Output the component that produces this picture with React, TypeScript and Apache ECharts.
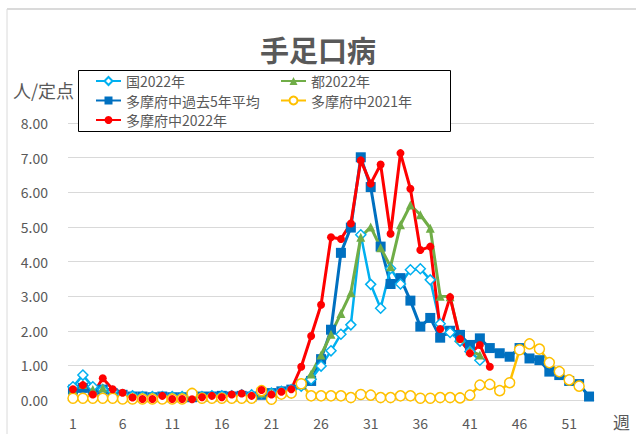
import React, { useEffect, useRef } from "react";
import * as echarts from "echarts";

const weeks: string[] = Array.from({ length: 53 }, (_, i) => String(i + 1));
const yTicks = [0, 1, 2, 3, 4, 5, 6, 7, 8];

const kuni2022: (number | null)[] = [
  0.38, 0.72, 0.38, 0.3, 0.25, 0.15, 0.12, 0.1, 0.1, 0.1, 0.1, 0.1, 0.1, 0.1, 0.12, 0.12, 0.12, 0.15, 0.15, 0.2,
  0.2, 0.25, 0.3, 0.4, 0.6, 0.98, 1.42, 1.9, 2.17, 4.77, 3.34, 2.65, 3.8, 3.35, 3.76, 3.79, 3.47, 2.2, 1.95, 1.7,
  1.4, 1.15, null, null, null, null, null, null, null, null, null, null, null,
];
const to2022: (number | null)[] = [
  0.3, 0.45, 0.3, 0.35, 0.25, 0.15, 0.1, 0.1, 0.1, 0.1, 0.1, 0.1, 0.1, 0.1, 0.1, 0.1, 0.1, 0.12, 0.12, 0.2,
  0.2, 0.25, 0.3, 0.45, 0.75, 1.3, 1.9, 2.5, 3.1, 4.7, 5.0, 4.4, 3.85, 5.06, 5.63, 5.35, 4.96, 3.0, 2.98, 1.78,
  1.42, 1.3, null, null, null, null, null, null, null, null, null, null, null,
];
const tamaAvg5: (number | null)[] = [
  0.3, 0.35, 0.25, 0.3, 0.2, 0.15, 0.1, 0.1, 0.08, 0.1, 0.08, 0.08, 0.08, 0.1, 0.1, 0.12, 0.1, 0.12, 0.1, 0.15,
  0.2, 0.25, 0.3, 0.45, 0.55, 1.18, 2.03, 4.25, 4.98, 7.01, 6.15, 4.43, 3.35, 3.52, 2.87, 2.12, 2.37, 1.8, 2.0, 1.88,
  1.59, 1.78, 1.5, 1.35, 1.25, 1.5, 1.2, 1.15, 0.82, 0.72, 0.55, 0.46, 0.1,
];
const tama2021: (number | null)[] = [
  0.05, 0.05, 0.05, 0.05, 0.05, 0.03, 0.03, 0.03, 0.03, 0.03, 0.03, 0.03, 0.19, 0.05, 0.05, 0.05, 0.05, 0.05, 0.05, 0.27,
  0.02, 0.17, 0.2, 0.47, 0.12, 0.12, 0.12, 0.12, 0.07, 0.16, 0.14, 0.07, 0.07, 0.12, 0.12, 0.05, 0.05, 0.07, 0.07, 0.06,
  0.14, 0.43, 0.45, 0.27, 0.5, 1.45, 1.62, 1.47, 1.08, 0.82, 0.58, 0.4, null,
];
const tama2022: (number | null)[] = [
  0.31, 0.43, 0.16, 0.63, 0.31, 0.21, 0.07, 0.03, 0.03, 0.12, 0.03, 0.03, 0.02, 0.08, 0.12, 0.08, 0.16, 0.19, 0.12, 0.29,
  0.16, 0.24, 0.31, 0.96, 1.85, 2.75, 4.7, 4.65, 5.1, 6.92, 6.25, 6.8, 4.8, 7.13, 6.1, 4.33, 4.43, 2.05, 2.97, 1.76,
  1.35, 1.59, 0.96, null, null, null, null, null, null, null, null, null, null,
];

const FONT = "'Noto Sans CJK JP', 'Noto Sans', sans-serif";
const TXT = "#595959";

export default function App() {
  const ref = useRef<HTMLDivElement>(null);
  useEffect(() => {
    if (!ref.current) return;
    const chart = echarts.init(ref.current, undefined, { renderer: "svg" });
    const hollow = (c: string) => ({ color: "#fff", borderColor: c, borderWidth: 1.5 });
    const legendBase = {
      orient: "vertical",
      top: 73,
      padding: 0,
      itemWidth: 25,
      itemHeight: 10,
      itemGap: 3.5,
      textStyle: { fontSize: 14, color: TXT, fontFamily: FONT, lineHeight: 16 },
      z: 10,
    };
    chart.setOption({
      animation: false,
      backgroundColor: "#fff",
      textStyle: { fontFamily: FONT, color: TXT },
      title: {
        text: "手足口病",
        left: "center",
        top: 34,
        padding: 0,
        textStyle: { fontSize: 29, fontWeight: "bold", color: TXT, fontFamily: FONT, lineHeight: 30 },
      },
      grid: { left: 68, right: 42, top: 123, bottom: 34, containLabel: false },
      legend: [
        { ...legendBase, left: 95, data: ["国2022年", "多摩府中過去5年平均", "多摩府中2022年"] },
        { ...legendBase, left: 280, data: ["都2022年", "多摩府中2021年"] },
      ],
      graphic: [
        { type: "line", shape: { x1: 7, y1: 9, x2: 636, y2: 9 }, style: { stroke: "#DADADA", lineWidth: 2 } },
        { type: "line", shape: { x1: 7, y1: 9, x2: 7, y2: 434 }, style: { stroke: "#DADADA", lineWidth: 1 } },
        {
          type: "rect",
          z: 5,
          shape: { x: 78.5, y: 70.5, width: 372, height: 61 },
          style: { fill: "#fff", stroke: "#000", lineWidth: 1 },
        },
        {
          type: "text",
          left: 13,
          top: 81,
          style: { text: "人/定点", fontSize: 18, fill: TXT, fontFamily: FONT },
        },
        {
          type: "text",
          left: 613,
          top: 413,
          style: { text: "週", fontSize: 17, fill: TXT, fontFamily: FONT },
        },
      ],
      xAxis: {
        type: "category",
        data: weeks,
        boundaryGap: true,
        axisTick: { show: false },
        axisLine: { show: true, lineStyle: { color: "#D9D9D9" } },
        axisLabel: { interval: 4, fontSize: 14, color: TXT, margin: 16, fontFamily: FONT },
      },
      yAxis: {
        type: "value",
        min: yTicks[0],
        max: yTicks[yTicks.length - 1],
        interval: 1,
        axisLine: { show: false },
        axisTick: { show: false },
        splitLine: { lineStyle: { color: "#D9D9D9", width: 1 } },
        axisLabel: {
          fontSize: 14,
          color: TXT,
          margin: 20,
          fontFamily: FONT,
          formatter: (v: number) => v.toFixed(2),
        },
      },
      series: [
        {
          name: "多摩府中過去5年平均",
          type: "line",
          data: tamaAvg5,
          color: "#0070C0",
          symbol: "rect",
          symbolSize: 10,
          showAllSymbol: true,
          lineStyle: { width: 3, color: "#0070C0" },
          itemStyle: { color: "#0070C0" },
        },
        {
          name: "国2022年",
          type: "line",
          data: kuni2022,
          color: "#00B0F0",
          symbol: "diamond",
          symbolSize: 10,
          showAllSymbol: true,
          lineStyle: { width: 2.5, color: "#00B0F0" },
          itemStyle: hollow("#00B0F0"),
        },
        {
          name: "都2022年",
          type: "line",
          data: to2022,
          color: "#70AD47",
          symbol: "triangle",
          symbolSize: 9,
          showAllSymbol: true,
          lineStyle: { width: 3, color: "#70AD47" },
          itemStyle: { color: "#70AD47" },
        },
        {
          name: "多摩府中2021年",
          type: "line",
          data: tama2021,
          color: "#FFC000",
          symbol: "circle",
          symbolSize: 10,
          showAllSymbol: true,
          lineStyle: { width: 2.5, color: "#FFC000" },
          itemStyle: hollow("#FFC000"),
        },
        {
          name: "多摩府中2022年",
          type: "line",
          data: tama2022,
          color: "#FF0000",
          symbol: "circle",
          symbolSize: 8,
          showAllSymbol: true,
          lineStyle: { width: 3, color: "#FF0000" },
          itemStyle: { color: "#FF0000" },
        },
      ],
    });
    return () => chart.dispose();
  }, []);
  return (
    <div
      ref={ref}
      style={{ position: "fixed", left: 0, top: 0, width: 636, height: 434, background: "#fff" }}
    />
  );
}
